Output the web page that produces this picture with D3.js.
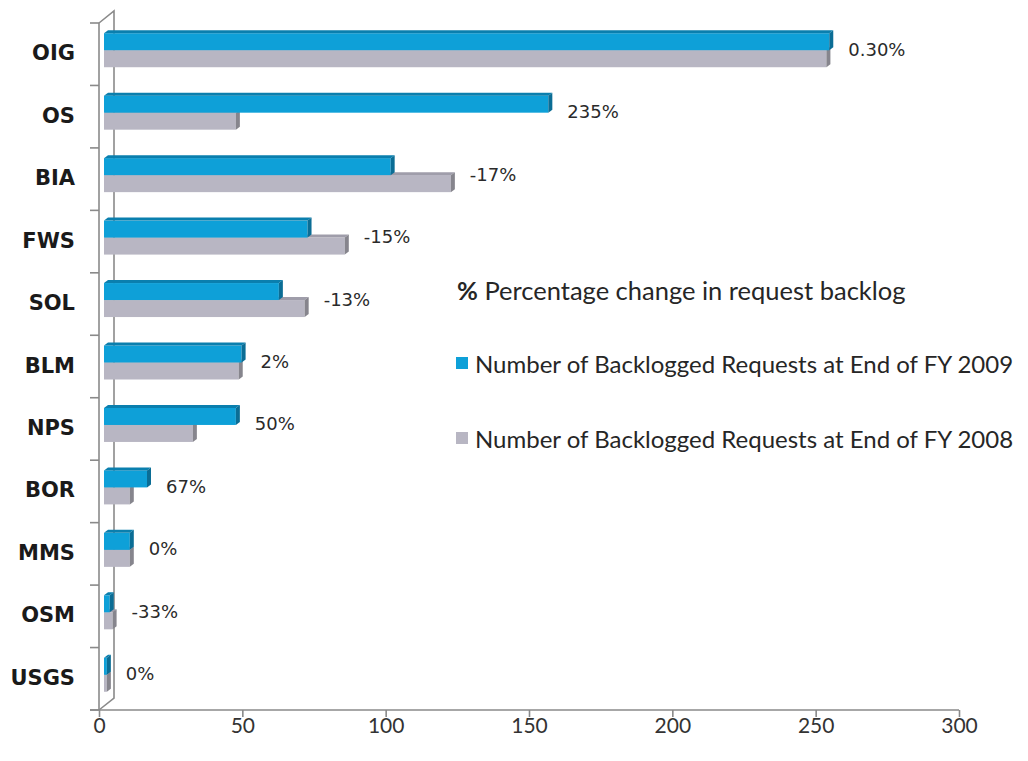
<!DOCTYPE html>
<html>
<head>
<meta charset="utf-8">
<script src="https://cdn.jsdelivr.net/npm/d3@7"></script>
<style>
  body { margin: 0; background: #fff; }
  svg { display: block; }
</style>
</head>
<body>
<svg id="chart" width="1028" height="761"></svg>
<script>
const categories = ['OIG', 'OS', 'BIA', 'FWS', 'SOL', 'BLM', 'NPS', 'BOR', 'MMS', 'OSM', 'USGS']
const fy2009 = [253, 155, 100, 71, 61, 48, 46, 15, 9, 2, 1]
const fy2008 = [252, 46, 121, 84, 70, 47, 31, 9, 9, 3, 1]
const changeLabels = ['0.30%', '235%', '-17%', '-15%', '-13%', '2%', '50%', '67%', '0%', '-33%', '0%']
const xTicks = [0, 50, 100, 150, 200, 250, 300]
const legendTitle = 'Percentage change in request backlog'
const seriesNames = [
  'Number of Backlogged Requests at End of FY 2009',
  'Number of Backlogged Requests at End of FY 2008',
]

const svg = d3.select('#chart')

const plot = { left: 99, right: 959, top: 23, bottom: 710 }
const wall = { dx: 15, dy: -12 }   // back wall offset
const mid = { dx: 5, dy: -4 }      // bars sit in the middle of the depth
const face = { dx: 4, dy: -3 }     // bar depth

const x = d3.scaleLinear().domain([0, 300]).range([plot.left, plot.right])
const y = d3.scaleBand().domain(categories).range([plot.top, plot.bottom])
const ySeries = d3.scaleBand().domain([0, 1]).range([0, 34])

const series = [
  { name: seriesNames[0], values: fy2009, front: '#0ea0d8', top: '#0a7fae', side: '#0b6d95' },
  { name: seriesNames[1], values: fy2008, front: '#b8b6c3', top: '#9f9daa', side: '#86858d' },
]

// walls / axes
const axisColor = '#8a8a8a'
const axes = svg.append('g').attr('stroke', axisColor).attr('stroke-width', 1.6).attr('fill', 'none')
axes.append('path')
  .attr('d', `M${plot.left},${plot.top} L${plot.left + wall.dx},${plot.top + wall.dy} L${plot.left + wall.dx},${plot.bottom + wall.dy} L${plot.left},${plot.bottom}`)
axes.append('line')
  .attr('x1', plot.left).attr('x2', plot.left)
  .attr('y1', plot.top).attr('y2', plot.bottom)

// category ticks
const bounds = categories.map(c => y(c)).concat([plot.bottom])
axes.selectAll('line.ctick')
  .data(bounds)
  .join('line')
  .attr('class', 'ctick')
  .attr('x1', plot.left - 9).attr('x2', plot.left)
  .attr('y1', d => d).attr('y2', d => d)

// x axis
const xAxis = svg.append('g')
  .attr('transform', `translate(0, ${plot.bottom})`)
  .call(d3.axisBottom(x).tickValues(xTicks).tickSize(7).tickPadding(1).tickSizeOuter(0))
xAxis.select('.domain').attr('stroke', axisColor).attr('stroke-width', 1.6)
  .attr('d', `M${plot.left - 9},0H${plot.right}`)
xAxis.selectAll('.tick line').attr('stroke', axisColor).attr('stroke-width', 1.6)
xAxis.selectAll('.tick text')
  .attr('fill', '#333')
  .style('font-family', 'Lato, "Open Sans", sans-serif')
  .style('font-size', '21px')

// category labels
svg.append('g')
  .selectAll('text')
  .data(categories)
  .join('text')
  .attr('x', 75)
  .attr('y', d => y(d) + y.bandwidth() / 2 - 1)
  .attr('text-anchor', 'end')
  .attr('dominant-baseline', 'central')
  .attr('fill', '#1a1a1a')
  .style('font-family', '"DejaVu Sans", Verdana, sans-serif')
  .style('font-weight', 'bold')
  .style('font-size', '21px')
  .text(d => d)

// bars
const groupTop = c => y(c) + (y.bandwidth() - 34) / 2 + mid.dy
const x0 = x(0) + mid.dx

function drawBar(g, yTop, h, xEnd, s) {
  g.append('rect')
    .attr('x', x0).attr('y', yTop)
    .attr('width', Math.max(0, xEnd - x0)).attr('height', h)
    .attr('fill', s.front)
  g.append('path')
    .attr('d', `M${x0},${yTop} L${x0 + face.dx},${yTop + face.dy} L${xEnd + face.dx},${yTop + face.dy} L${xEnd},${yTop} Z`)
    .attr('fill', s.top)
  g.append('path')
    .attr('d', `M${xEnd},${yTop} L${xEnd + face.dx},${yTop + face.dy} L${xEnd + face.dx},${yTop + h + face.dy} L${xEnd},${yTop + h} Z`)
    .attr('fill', s.side)
}

const bars = svg.append('g')
categories.forEach((c, i) => {
  const g = bars.append('g')
  // lower (2008) bar first so the 2009 front face covers its top
  ;[1, 0].forEach(si => {
    const s = series[si]
    const xEnd = x0 + (x(s.values[i]) - x(0))
    drawBar(g, groupTop(c) + ySeries(si), ySeries.bandwidth(), xEnd, s)
  })
})

// percentage labels
svg.append('g')
  .selectAll('text')
  .data(categories)
  .join('text')
  .attr('x', (c, i) => x0 + (x(Math.max(fy2009[i], fy2008[i])) - x(0)) + face.dx + 15)
  .attr('y', c => groupTop(c) + 16)
  .attr('dominant-baseline', 'central')
  .attr('fill', '#2a2a2a')
  .style('font-family', '"DejaVu Sans", Verdana, sans-serif')
  .style('font-size', '18px')
  .text((c, i) => changeLabels[i])

// legend
const legend = svg.append('g')
  .style('font-family', 'Lato, "Open Sans", sans-serif')
  .style('font-size', '24px')
  .attr('fill', '#262626')

const title = legend.append('text').attr('x', 457).attr('y', 290)
  .attr('dominant-baseline', 'central')
  .style('font-size', '25.5px')
title.append('tspan').attr('font-weight', 'bold').text('%')
title.append('tspan').text(' ' + legendTitle)

const legendItems = legend.selectAll('g.item')
  .data(series)
  .join('g')
  .attr('class', 'item')
  .attr('transform', (d, i) => `translate(456, ${363 + i * 75})`)
legendItems.append('rect')
  .attr('x', 0).attr('y', -6).attr('width', 12).attr('height', 12)
  .attr('fill', d => d.front)
legendItems.append('text')
  .attr('x', 19).attr('y', 0)
  .attr('dominant-baseline', 'central')
  .text(d => d.name)
</script>
</body>
</html>
